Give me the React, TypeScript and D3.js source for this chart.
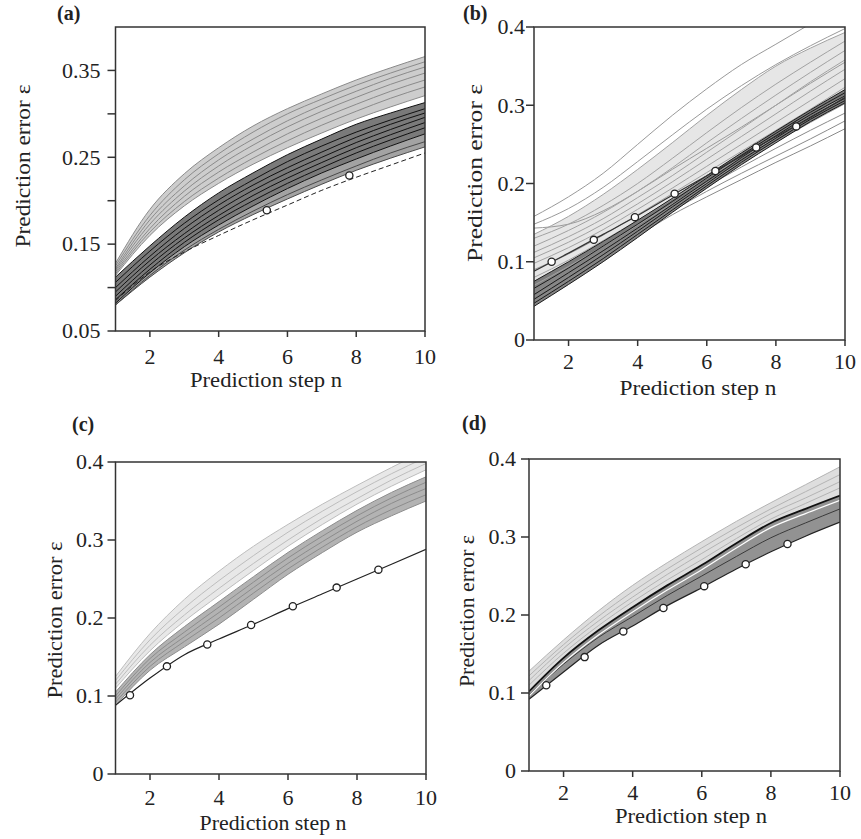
import React, { useEffect, useRef } from 'react';
import * as d3 from 'd3';

// prediction steps n = 1..10 (x values of every series)
const steps = [1, 2, 3, 4, 5, 6, 7, 8, 9, 10];
const xTicks = [2, 4, 6, 8, 10];

// ---- panel (a) ----
const aYTicks = [0.05, 0.1, 0.15, 0.2, 0.25, 0.3, 0.35];
const aYLabels = ['0.05', '', '0.15', '', '0.25', '', '0.35'];
const aGray = [
  [0.128, 0.190, 0.231, 0.261, 0.286, 0.306, 0.323, 0.339, 0.353, 0.366],
  [0.125, 0.183, 0.224, 0.254, 0.279, 0.300, 0.317, 0.333, 0.347, 0.360],
  [0.122, 0.178, 0.217, 0.247, 0.271, 0.292, 0.310, 0.326, 0.341, 0.354],
  [0.120, 0.173, 0.211, 0.240, 0.264, 0.285, 0.303, 0.319, 0.334, 0.347],
  [0.118, 0.168, 0.205, 0.233, 0.256, 0.277, 0.295, 0.311, 0.326, 0.339],
  [0.116, 0.164, 0.199, 0.226, 0.249, 0.269, 0.287, 0.303, 0.318, 0.331],
  [0.114, 0.160, 0.194, 0.220, 0.242, 0.261, 0.278, 0.294, 0.308, 0.321],
];
const aBlack = [
  [0.112, 0.148, 0.181, 0.209, 0.232, 0.253, 0.271, 0.288, 0.301, 0.313],
  [0.106, 0.142, 0.174, 0.201, 0.224, 0.245, 0.263, 0.279, 0.293, 0.306],
  [0.100, 0.136, 0.168, 0.195, 0.218, 0.238, 0.256, 0.273, 0.288, 0.301],
  [0.095, 0.131, 0.162, 0.189, 0.212, 0.232, 0.250, 0.267, 0.282, 0.296],
  [0.090, 0.126, 0.157, 0.183, 0.206, 0.226, 0.244, 0.261, 0.276, 0.290],
  [0.086, 0.121, 0.152, 0.178, 0.200, 0.220, 0.238, 0.255, 0.270, 0.284],
  [0.082, 0.117, 0.147, 0.172, 0.194, 0.214, 0.232, 0.248, 0.263, 0.277],
];
const aMid = [
  [0.080, 0.114, 0.143, 0.167, 0.188, 0.207, 0.224, 0.240, 0.255, 0.268],
  [0.080, 0.112, 0.140, 0.164, 0.184, 0.202, 0.219, 0.235, 0.249, 0.262],
];
const aDashed = [0.085, 0.118, 0.141, 0.160, 0.178, 0.195, 0.212, 0.227, 0.241, 0.255];
const aMarkN = [5.4, 7.8];
const aMarkV = [0.189, 0.229];

// ---- panel (b) ----
const yTicks = [0, 0.1, 0.2, 0.3, 0.4];
const yLabels = ['0', '0.1', '0.2', '0.3', '0.4'];
const bOutliers = [
  [0.158, 0.183, 0.213, 0.250, 0.287, 0.321, 0.352, 0.378, 0.404, 0.430],
  [0.148, 0.168, 0.195, 0.228, 0.262, 0.295, 0.325, 0.352, 0.376, 0.398],
  [0.143, 0.148, 0.165, 0.190, 0.218, 0.245, 0.272, 0.300, 0.328, 0.355],
];
const bGray = [
  [0.135, 0.158, 0.186, 0.218, 0.252, 0.287, 0.320, 0.350, 0.373, 0.393],
  [0.130, 0.148, 0.172, 0.200, 0.232, 0.265, 0.297, 0.327, 0.355, 0.382],
  [0.120, 0.140, 0.163, 0.190, 0.220, 0.252, 0.283, 0.313, 0.342, 0.370],
  [0.112, 0.132, 0.155, 0.182, 0.210, 0.240, 0.270, 0.300, 0.330, 0.358],
  [0.105, 0.125, 0.148, 0.174, 0.202, 0.231, 0.260, 0.289, 0.318, 0.346],
  [0.098, 0.118, 0.141, 0.167, 0.194, 0.222, 0.250, 0.278, 0.306, 0.334],
  [0.090, 0.110, 0.134, 0.160, 0.187, 0.214, 0.241, 0.268, 0.295, 0.323],
  [0.080, 0.102, 0.127, 0.153, 0.180, 0.207, 0.233, 0.259, 0.285, 0.312],
  [0.070, 0.094, 0.120, 0.147, 0.174, 0.201, 0.227, 0.253, 0.278, 0.302],
];
const bLower = [
  [0.050, 0.077, 0.105, 0.133, 0.160, 0.183, 0.205, 0.227, 0.248, 0.270],
  [0.055, 0.082, 0.110, 0.138, 0.165, 0.190, 0.213, 0.235, 0.257, 0.280],
  [0.060, 0.087, 0.115, 0.143, 0.170, 0.196, 0.221, 0.245, 0.268, 0.290],
];
const bBlack = [
  [0.043, 0.071, 0.100, 0.131, 0.163, 0.194, 0.224, 0.252, 0.279, 0.303],
  [0.047, 0.075, 0.104, 0.135, 0.166, 0.197, 0.227, 0.255, 0.282, 0.306],
  [0.052, 0.080, 0.109, 0.139, 0.170, 0.200, 0.230, 0.258, 0.285, 0.309],
  [0.058, 0.086, 0.114, 0.143, 0.173, 0.203, 0.233, 0.261, 0.288, 0.312],
  [0.066, 0.092, 0.120, 0.148, 0.177, 0.207, 0.236, 0.264, 0.291, 0.316],
  [0.075, 0.100, 0.126, 0.153, 0.181, 0.210, 0.239, 0.267, 0.294, 0.320],
];
const bMarked = [0.088, 0.111, 0.135, 0.159, 0.185, 0.210, 0.235, 0.260, 0.284, 0.310];
const bMarkN = [1.51, 2.73, 3.92, 5.07, 6.25, 7.43, 8.59];
const bMarkV = [0.100, 0.128, 0.157, 0.187, 0.216, 0.246, 0.273];

// ---- panel (c) ----
const cMid = [
  [0.088, 0.133, 0.163, 0.192, 0.224, 0.256, 0.284, 0.310, 0.331, 0.350],
  [0.092, 0.138, 0.170, 0.200, 0.232, 0.263, 0.291, 0.317, 0.339, 0.358],
  [0.096, 0.143, 0.176, 0.207, 0.239, 0.270, 0.298, 0.324, 0.347, 0.366],
  [0.100, 0.148, 0.182, 0.214, 0.246, 0.277, 0.305, 0.331, 0.354, 0.374],
  [0.105, 0.153, 0.189, 0.221, 0.253, 0.284, 0.312, 0.338, 0.361, 0.381],
];
const cLight = [
  [0.110, 0.158, 0.196, 0.229, 0.261, 0.292, 0.320, 0.346, 0.369, 0.390],
  [0.115, 0.165, 0.204, 0.238, 0.270, 0.300, 0.328, 0.353, 0.377, 0.398],
  [0.120, 0.172, 0.213, 0.248, 0.280, 0.310, 0.337, 0.362, 0.385, 0.406],
  [0.125, 0.180, 0.224, 0.260, 0.292, 0.320, 0.346, 0.370, 0.393, 0.415],
];
const cMarked = [0.088, 0.123, 0.153, 0.173, 0.192, 0.212, 0.231, 0.250, 0.269, 0.288];
const cMarkN = [1.42, 2.49, 3.66, 4.93, 6.14, 7.41, 8.62];
const cMarkV = [0.101, 0.138, 0.166, 0.191, 0.215, 0.239, 0.262];

// ---- panel (d) ----
const dLight = [
  [0.128, 0.168, 0.205, 0.238, 0.267, 0.294, 0.320, 0.344, 0.367, 0.390],
  [0.122, 0.162, 0.198, 0.230, 0.259, 0.286, 0.312, 0.336, 0.358, 0.380],
  [0.116, 0.157, 0.192, 0.223, 0.252, 0.279, 0.305, 0.330, 0.350, 0.371],
  [0.110, 0.151, 0.186, 0.217, 0.245, 0.271, 0.298, 0.323, 0.343, 0.363],
];
const dBlack = [0.102, 0.145, 0.180, 0.210, 0.238, 0.264, 0.292, 0.318, 0.336, 0.353];
const dWhite = [0.096, 0.139, 0.174, 0.204, 0.232, 0.258, 0.286, 0.312, 0.330, 0.347];
const dDark = [
  [0.097, 0.137, 0.171, 0.198, 0.225, 0.250, 0.275, 0.299, 0.318, 0.336],
];
const dMarked = [0.092, 0.127, 0.161, 0.186, 0.212, 0.235, 0.259, 0.281, 0.301, 0.319];
const dMarkN = [1.5, 2.61, 3.73, 4.89, 6.07, 7.27, 8.48];
const dMarkV = [0.110, 0.146, 0.179, 0.209, 0.237, 0.265, 0.291];

const FONT = 'Liberation Serif, Times New Roman, Times, serif';

const panels = [
  {
    letter: '(a)', letterX: 57, letterY: 20,
    left: 115.5, right: 425, top: 27, bottom: 331, yDomain: [0.05, 0.4],
    yTicks: aYTicks, yLabels: aYLabels, yLabelOff: 15,
    titleX: 30, titleY: 166, titleLen: 163, xTickDy: 33, xTitleDy: 56,
    xTitleX: 266, xTitleLen: 152,
    bands: [
      { lo: aGray[aGray.length - 1], hi: aGray[0], fill: '#a4a4a4', op: 0.55 },
      { lo: aBlack[aBlack.length - 1], hi: aBlack[0], fill: '#222', op: 0.6 },
      { lo: aMid[1], hi: aBlack[aBlack.length - 1], fill: '#666', op: 0.6 },
    ],
    groups: [
      { lines: aGray, stroke: '#8a8a8a', width: 1 },
      { lines: aMid, stroke: '#4a4a4a', width: 1 },
      { lines: aBlack, stroke: '#111', width: 1 },
      { lines: [aDashed], stroke: '#222', width: 1, dash: '5,3' },
    ],
    markN: aMarkN, markV: aMarkV,
  },
  {
    letter: '(b)', letterX: 463, letterY: 20,
    left: 534, right: 845, top: 27, bottom: 340, yDomain: [0, 0.4],
    yTicks, yLabels, yLabelOff: 9,
    titleX: 482, titleY: 173, titleLen: 178, xTickDy: 29, xTitleDy: 55,
    xTitleX: 698, xTitleLen: 157,
    bands: [
      { lo: bGray[bGray.length - 1], hi: bGray[0], fill: '#c8c8c8', op: 0.45 },
      { lo: bBlack[0], hi: bBlack[bBlack.length - 1], fill: '#333', op: 0.6 },
    ],
    groups: [
      { lines: bOutliers, stroke: '#9a9a9a', width: 1 },
      { lines: bGray, stroke: '#a2a2a2', width: 1 },
      { lines: bLower, stroke: '#8a8a8a', width: 1 },
      { lines: bBlack, stroke: '#1a1a1a', width: 1 },
      { lines: [bMarked], stroke: '#333', width: 1.2 },
    ],
    markN: bMarkN, markV: bMarkV,
  },
  {
    letter: '(c)', letterX: 72, letterY: 431,
    left: 115.5, right: 426, top: 462, bottom: 774, yDomain: [0, 0.4],
    yTicks, yLabels, yLabelOff: 12,
    titleX: 62, titleY: 620, titleLen: 157, xTickDy: 31, xTitleDy: 56,
    xTitleX: 273, xTitleLen: 147,
    bands: [
      { lo: cLight[0], hi: cLight[cLight.length - 1], fill: '#d8d8d8', op: 0.6 },
      { lo: cMid[0], hi: cMid[cMid.length - 1], fill: '#9a9a9a', op: 0.75 },
    ],
    groups: [
      { lines: cLight, stroke: '#bdbdbd', width: 1 },
      { lines: cMid, stroke: '#8c8c8c', width: 1 },
      { lines: [cMarked], stroke: '#222', width: 1.2 },
    ],
    markN: cMarkN, markV: cMarkV,
  },
  {
    letter: '(d)', letterX: 462, letterY: 430,
    left: 529, right: 840, top: 459, bottom: 771, yDomain: [0, 0.4],
    yTicks, yLabels, yLabelOff: 13,
    titleX: 474, titleY: 611, titleLen: 152, xTickDy: 29, xTitleDy: 52,
    xTitleX: 691, xTitleLen: 152,
    bands: [
      { lo: dBlack, hi: dLight[0], fill: '#d0d0d0', op: 0.7 },
      { lo: dMarked, hi: dBlack, fill: '#6e6e6e', op: 0.75 },
    ],
    groups: [
      { lines: dLight, stroke: '#b4b4b4', width: 1 },
      { lines: dDark, stroke: '#3a3a3a', width: 1 },
      { lines: [dWhite], stroke: '#fff', width: 1.2 },
      { lines: [dBlack], stroke: '#111', width: 1.8 },
      { lines: [dMarked], stroke: '#222', width: 1.2 },
    ],
    markN: dMarkN, markV: dMarkV,
  },
];

const App = () => {
  const ref = useRef(null);

  useEffect(() => {
    const svg = d3.select(ref.current);
    svg.selectAll('*').remove();

    panels.forEach((p, pi) => {
      const x = d3.scaleLinear().domain([1, 10]).range([p.left, p.right]);
      const y = d3.scaleLinear().domain(p.yDomain).range([p.bottom, p.top]);
      const g = svg.append('g');

      const clipId = `clip-${pi}`;
      svg.append('clipPath').attr('id', clipId)
        .append('rect')
        .attr('x', p.left).attr('y', p.top)
        .attr('width', p.right - p.left).attr('height', p.bottom - p.top);

      const plot = g.append('g').attr('clip-path', `url(#${clipId})`);

      const line = d3.line<number>()
        .x((d, i) => x(steps[i]))
        .y(d => y(d))
        .curve(d3.curveMonotoneX);

      const area = d3.area<number>()
        .x((d, i) => x(steps[i]))
        .curve(d3.curveMonotoneX);

      p.bands.forEach(b => {
        plot.append('path')
          .datum(steps.map((s, i) => i))
          .attr('d', area.y0(i => y(b.lo[i])).y1(i => y(b.hi[i])) as any)
          .attr('fill', b.fill)
          .attr('fill-opacity', b.op);
      });

      p.groups.forEach(gr => {
        plot.append('g')
          .selectAll('path')
          .data(gr.lines)
          .join('path')
            .attr('d', d => line(d))
            .attr('fill', 'none')
            .attr('stroke', gr.stroke)
            .attr('stroke-width', gr.width)
            .attr('stroke-dasharray', gr.dash || null);
      });

      plot.append('g')
        .selectAll('circle')
        .data(p.markN)
        .join('circle')
          .attr('cx', d => x(d))
          .attr('cy', (d, i) => y(p.markV[i]))
          .attr('r', 3.6)
          .attr('fill', '#fff')
          .attr('stroke', '#222')
          .attr('stroke-width', 1.3);

      // frame
      g.append('rect')
        .attr('x', p.left).attr('y', p.top)
        .attr('width', p.right - p.left).attr('height', p.bottom - p.top)
        .attr('fill', 'none')
        .attr('stroke', '#333')
        .attr('stroke-width', 1.5);

      // y ticks
      g.append('g')
        .selectAll('line')
        .data(p.yTicks)
        .join('line')
          .attr('x1', p.left - 8).attr('x2', p.left)
          .attr('y1', d => y(d)).attr('y2', d => y(d))
          .attr('stroke', '#333').attr('stroke-width', 1.5);

      g.append('g')
        .selectAll('text')
        .data(p.yTicks)
        .join('text')
          .attr('x', p.left - p.yLabelOff)
          .attr('y', d => y(d))
          .attr('dy', '0.33em')
          .attr('text-anchor', 'end')
          .style('font-family', FONT)
          .style('font-size', '22px')
          .attr('fill', '#222')
          .text((d, i) => p.yLabels[i]);

      // x ticks
      g.append('g')
        .selectAll('line')
        .data(xTicks)
        .join('line')
          .attr('x1', d => x(d)).attr('x2', d => x(d))
          .attr('y1', p.bottom).attr('y2', p.bottom + 6)
          .attr('stroke', '#333').attr('stroke-width', 1.5);

      g.append('g')
        .selectAll('text')
        .data(xTicks)
        .join('text')
          .attr('x', d => x(d))
          .attr('y', p.bottom + p.xTickDy)
          .attr('text-anchor', 'middle')
          .style('font-family', FONT)
          .style('font-size', '22px')
          .attr('fill', '#222')
          .text(d => d);

      g.append('text')
        .attr('x', p.xTitleX)
        .attr('y', p.bottom + p.xTitleDy)
        .attr('text-anchor', 'middle')
        .style('font-family', FONT)
        .style('font-size', '22px')
        .attr('fill', '#222')
        .attr('textLength', p.xTitleLen)
        .attr('lengthAdjust', 'spacingAndGlyphs')
        .text('Prediction step n');

      g.append('text')
        .attr('transform', `translate(${p.titleX},${p.titleY}) rotate(-90)`)
        .attr('text-anchor', 'middle')
        .style('font-family', FONT)
        .style('font-size', '22px')
        .attr('fill', '#222')
        .attr('textLength', p.titleLen)
        .attr('lengthAdjust', 'spacingAndGlyphs')
        .text('Prediction error ε');

      g.append('text')
        .attr('x', p.letterX)
        .attr('y', p.letterY)
        .style('font-family', FONT)
        .style('font-size', '20px')
        .style('font-weight', 'bold')
        .attr('fill', '#222')
        .text(p.letter);
    });
  }, []);

  return (
    <svg ref={ref} width={861} height={839}
      style={{ position: 'absolute', left: 0, top: 0, background: '#fff', fontFamily: FONT }} />
  );
};

export default App;
